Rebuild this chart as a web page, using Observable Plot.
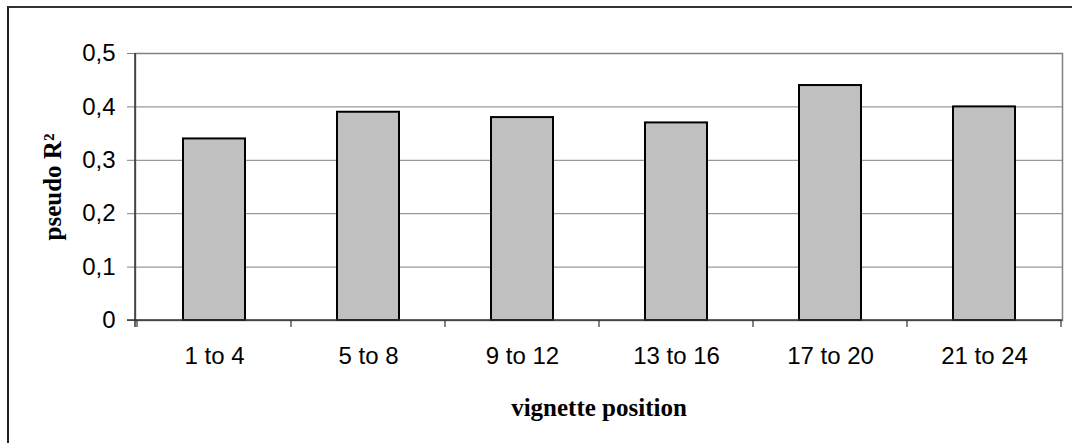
<!DOCTYPE html>
<html>
<head>
<meta charset="utf-8">
<script src="https://cdn.jsdelivr.net/npm/d3@7"></script>
<script src="https://cdn.jsdelivr.net/npm/@observablehq/plot@0.6"></script>
<style>
  html, body { margin: 0; padding: 0; background: #fff; }
  #wrap { position: relative; width: 1072px; height: 443px; overflow: hidden; }
  #outer { position: absolute; left: 7px; top: 6px; width: 1100px; height: 500px;
           border-left: 2px solid #222; border-top: 2px solid #333; box-sizing: border-box; pointer-events: none; }
</style>
</head>
<body>
<div id="wrap"><div id="outer"></div></div>
<script>
const categories = ["1 to 4", "5 to 8", "9 to 12", "13 to 16", "17 to 20", "21 to 24"];
const values = [0.34, 0.39, 0.38, 0.37, 0.44, 0.40];
const yTicks = [0, 0.1, 0.2, 0.3, 0.4, 0.5];
const xTitle = "vignette position";
const yTitle = "pseudo R²";

const data = categories.map((c, i) => ({cat: c, v: values[i]}));
const fmt = d => d === 0 ? "0" : d3.format(".1f")(d).replace(".", ",");

function axesLines(index, scales, values, dims) {
  const x = scales.x, y = scales.y;
  const g = d3.create("svg:g");
  const left = dims.marginLeft, right = dims.width - dims.marginRight;
  const top = dims.marginTop, bottom = dims.height - dims.marginBottom;
  const step = x.step(), bw = x.bandwidth();
  const bounds = x.domain().map(d => x(d) - (step - bw) / 2);
  bounds.push(bounds[bounds.length - 1] + step);
  g.append("line").attr("x1", left).attr("x2", left).attr("y1", top).attr("y2", bottom + 7)
    .attr("stroke", "#333").attr("stroke-width", 1.5);
  g.append("line").attr("x1", left - 8).attr("x2", right).attr("y1", y(0)).attr("y2", y(0))
    .attr("stroke", "#333").attr("stroke-width", 1.5);
  for (const b of bounds) {
    g.append("line").attr("x1", b).attr("x2", b).attr("y1", y(0)).attr("y2", y(0) + 7)
      .attr("stroke", "#333").attr("stroke-width", 1.2);
  }
  return g.node();
}

const plot = Plot.plot({
  width: 1072,
  height: 443,
  marginLeft: 135,
  marginRight: 10,
  marginTop: 53,
  marginBottom: 123,
  style: {background: "transparent", overflow: "visible"},
  x: {domain: categories, paddingInner: 0.6, paddingOuter: 0.3, axis: null},
  y: {domain: [0, 0.5], axis: null},
  marks: [
    Plot.gridY(yTicks.filter(d => d > 0 && d < 0.5), {stroke: "#808080", strokeOpacity: 1, strokeWidth: 1}),
    Plot.frame({stroke: "#808080", strokeWidth: 1.5}),
    Plot.axisY(yTicks, {tickSize: 8, tickPadding: 12, tickFormat: fmt, stroke: "#808080",
      fontSize: 24, fontFamily: "Liberation Sans, Arial, sans-serif", fill: "#000", label: null}),
    Plot.barY(data, {x: "cat", y: "v", fill: "#c0c0c0", stroke: "#000", strokeWidth: 2}),
    axesLines,
    Plot.text(data, {x: "cat", text: "cat", frameAnchor: "bottom", lineAnchor: "middle", dy: 36, fontSize: 24,
      fontFamily: "Liberation Sans, Arial, sans-serif", fill: "#000"}),
    Plot.text([xTitle], {frameAnchor: "bottom", lineAnchor: "middle", textAnchor: "middle", dy: 87, fontSize: 25, fontWeight: "bold",
      fontFamily: "Liberation Serif, Times New Roman, serif", fill: "#000"}),
    Plot.text([yTitle], {frameAnchor: "left", lineAnchor: "middle", textAnchor: "middle", dx: -83, rotate: -90, fontSize: 25, fontWeight: "bold",
      fontFamily: "Liberation Serif, Times New Roman, serif", fill: "#000"})
  ]
});
document.getElementById("wrap").prepend(plot);
</script>
</body>
</html>
